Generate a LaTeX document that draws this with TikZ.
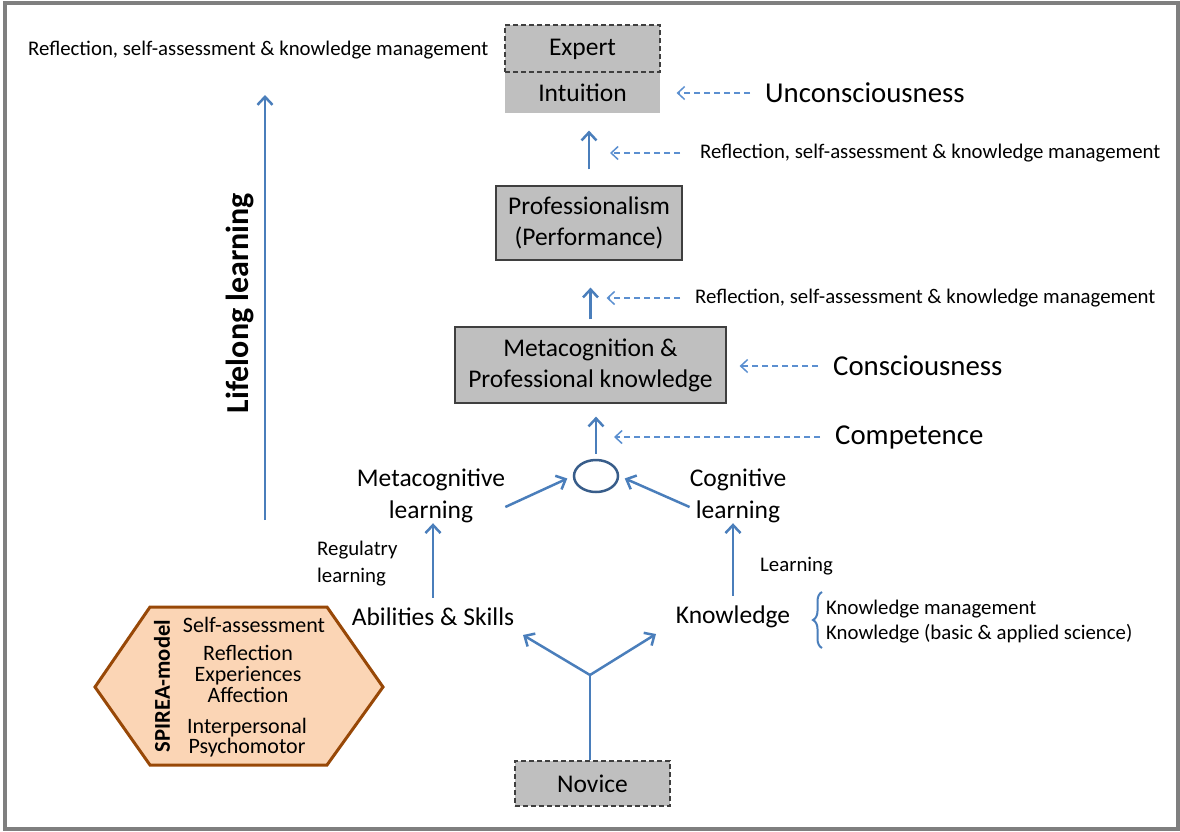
\documentclass[tikz,border=0pt]{standalone}
\usepackage{fontspec}
\setmainfont{Carlito}
\usetikzlibrary{arrows.meta,shapes.geometric,decorations.pathreplacing}
\definecolor{lineblue}{HTML}{4A7EBB}
\definecolor{hintblue}{HTML}{5B8FD0}
\definecolor{ringblue}{HTML}{385D8A}
\definecolor{boxgray}{HTML}{BFBFBF}
\definecolor{boxline}{HTML}{3F3F3F}
\definecolor{hexfill}{HTML}{FBD5B5}
\definecolor{hexline}{HTML}{984807}
\definecolor{framegray}{HTML}{7F7F7F}

\begin{document}
\begin{tikzpicture}[x=1pt,y=-1pt,
    txt/.style={inner sep=0pt,font=\fontsize{25.5}{32}\selectfont},
    bigtxt/.style={inner sep=0pt,font=\fontsize{28.8}{34}\selectfont},
    smalltxt/.style={inner sep=0pt,font=\fontsize{20.8}{26}\selectfont},
    hextxt/.style={inner sep=0pt,align=center,font=\fontsize{22}{21}\selectfont},
    box/.style={draw=boxline,line width=1.2pt,fill=boxgray,align=center,font=\fontsize{25.5}{31}\selectfont},
    dashbox/.style={box,dash pattern=on 5pt off 3pt},
    flow/.style={draw=lineblue,line width=2.5pt,-{Straight Barb[length=8pt,width=15pt]}},
    hint/.style={draw=hintblue,line width=1.5pt,dash pattern=on 6pt off 4pt,-{Straight Barb[length=7pt,width=13pt]}}]
    \useasboundingbox (0,0) rectangle (1180,831);
    \draw[framegray,line width=3.5pt] (5,3) rectangle (1178,829); %frame

    % top of the ladder
    \node[box,draw=none,minimum width=155pt,minimum height=41pt] (intuition) at (582.5,92.5) {Intuition}; %intuition
    \node[dashbox,minimum width=155pt,minimum height=47pt,text depth=2pt] (expert) at (582.5,48.5) {Expert}; %expert
    \node[box,minimum width=186pt,minimum height=74pt] (prof) at (589,223) {Professionalism\\(Performance)}; %prof
    \node[box,minimum width=271pt,minimum height=76pt] (meta) at (590.5,365) {Metacognition \&\\Professional knowledge}; %meta
    \node[draw=ringblue,line width=2.5pt,ellipse,minimum width=44pt,minimum height=32pt,inner sep=0pt] (ring) at (596,476) {}; %ring

    % learning
    \node[txt,align=center] (metal) at (431,496) {Metacognitive\\learning};
    \node[txt,align=center] (cogl) at (738,496) {Cognitive\\learning};
    \node[txt] (abil) at (433,617) {Abilities \& Skills};
    \node[txt] (know) at (733,617) {Knowledge};
    \node[dashbox,minimum width=155pt,minimum height=45pt] (novice) at (592.5,783.5) {Novice}; %novice

    \draw[flow,shorten <=16pt,shorten >=17pt] (prof.north) -- (prof.north |- intuition.south);
    \draw[flow,shorten <=7pt,shorten >=27pt] (meta.north) -- (meta.north |- prof.south);
    \draw[flow,shorten <=5pt,shorten >=13pt] (ring.north) -- (ring.north |- meta.south);
    \draw[flow,shorten >=6pt] ([yshift=-11pt]metal.east) -- (ring.west);
    \draw[flow,shorten >=6pt] ([yshift=-11pt]cogl.west) -- (ring.east);
    \draw[flow,shorten <=10pt] (abil.north) -- (abil.north |- metal.south);
    \draw[flow,shorten <=10pt] (know.north) -- (know.north |- cogl.south);

    % the fork from novice
    \coordinate (fork) at (590,675);
    \coordinate (forkl) at (523,635);
    \coordinate (forkr) at (656,634);
    \draw[lineblue,line width=2.5pt] (novice.north -| fork) -- (fork);
    \draw[flow] (fork) -- (forkl);
    \draw[flow] (fork) -- (forkr);

    % side notes
    \node[bigtxt,anchor=west] (uncon) at (765,93) {Unconsciousness};
    \node[smalltxt,anchor=west] (refl1) at (700,153) {Reflection, self-assessment \& knowledge management};
    \node[smalltxt,anchor=west] (refl2) at (695,298) {Reflection, self-assessment \& knowledge management};
    \node[bigtxt,anchor=west] (consc) at (833,366) {Consciousness};
    \node[bigtxt,anchor=west] (compet) at (835,437) {Competence};
    \draw[hint,shorten <=15pt,shorten >=16pt] (uncon.west) -- (uncon.west -| intuition.east);
    \draw[hint,shorten <=20pt,shorten >=21pt] (refl1.west) -- (refl1.west -| prof.north);
    \draw[hint,shorten <=15pt,shorten >=16pt] (refl2.west) -- (refl2.west -| meta.north);
    \draw[hint,shorten <=15pt,shorten >=13pt] (consc.west) -- (consc.west -| meta.east);
    \draw[hint,shorten <=15pt,shorten >=18pt] (compet.west) -- (compet.west -| ring.north);

    \node[smalltxt,anchor=west] (learnlbl) at (760,566) {Learning};
    \node[smalltxt,anchor=west,align=left,font=\fontsize{20.8}{27}\selectfont] (reglbl) at (317,563.5) {Regulatry\\learning};
    \node[smalltxt,anchor=west,align=left,font=\fontsize{20.8}{25}\selectfont] (knowlist) at (826,622) {Knowledge management\\Knowledge (basic \& applied science)};
    \draw[lineblue,line width=2pt,decorate,decoration={brace,amplitude=9pt}] (822,648) -- (822,592); %brace

    % lifelong learning
    \node[smalltxt,anchor=west] (topnote) at (28,50) {Reflection, self-assessment \& knowledge management};
    \coordinate (lifefoot) at (265,520);
    \coordinate (lifehead) at (265,95);
    \draw[flow] (lifefoot) -- (lifehead);
    \node[rotate=90,inner sep=0pt,font=\bfseries\fontsize{32}{36}\selectfont] (lifelong) at (240,303) {Lifelong learning};

    % SPIREA hexagon
    \draw[hexline,fill=hexfill,line width=3pt] (95,687) -- (150,607) -- (327,607) -- (383,687) -- (327,765) -- (150,765) -- cycle;
    \node[rotate=90,inner sep=0pt,font=\bfseries\fontsize{22.6}{26}\selectfont] (spirea) at (162,686) {SPIREA-model};
    \node[hextxt] (selfa) at (254,624.5) {Self-assessment};
    \node[hextxt] (reflgrp) at (248,674) {Reflection\\Experiences\\Affection};
    \node[hextxt,font=\fontsize{22}{20.5}\selectfont] (persgrp) at (247,737.5) {Interpersonal\\Psychomotor};
\end{tikzpicture}
\end{document}
